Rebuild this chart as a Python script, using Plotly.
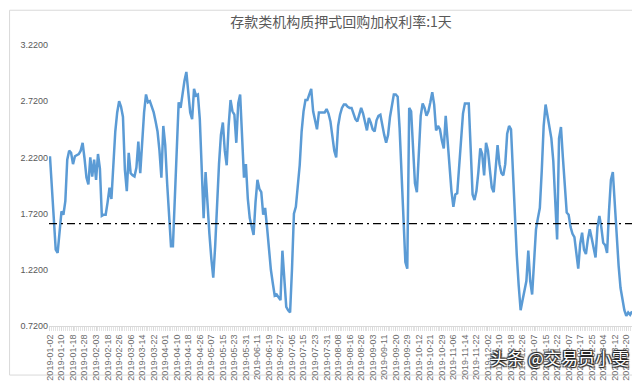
import plotly.graph_objects as go

title_text = "存款类机构质押式回购加权利率:1天"
watermark_text = "头条 @交易员小雯"

tick_labels = [
    "2019-01-02", "2019-01-10", "2019-01-18", "2019-01-28", "2019-02-03", "2019-02-18",
    "2019-02-26", "2019-03-06", "2019-03-14", "2019-03-22", "2019-04-01", "2019-04-10",
    "2019-04-18", "2019-04-26", "2019-05-07", "2019-05-15", "2019-05-23", "2019-05-31",
    "2019-06-11", "2019-06-19", "2019-06-27", "2019-07-05", "2019-07-15", "2019-07-23",
    "2019-07-31", "2019-08-08", "2019-08-16", "2019-08-26", "2019-09-03", "2019-09-11",
    "2019-09-20", "2019-09-29", "2019-10-12", "2019-10-21", "2019-10-29", "2019-11-06",
    "2019-11-14", "2019-11-22", "2019-12-02", "2019-12-10", "2019-12-18", "2019-12-26",
    "2020-01-07", "2020-01-15", "2020-01-22", "2020-02-07", "2020-02-17", "2020-02-25",
    "2020-03-04", "2020-03-12", "2020-03-20",
]
label_step = 6  # trading days between labels

rate = [
    2.23, 1.95, 1.62, 1.40, 1.37, 1.55, 1.74, 1.71, 1.83, 2.20,
    2.28, 2.26, 2.16, 2.23, 2.24, 2.25, 2.28, 2.35, 2.21, 2.04,
    1.98, 2.22, 2.05, 2.20, 2.02, 2.25, 2.12, 1.70, 1.71, 1.71,
    1.82, 1.95, 1.85, 2.20, 2.45, 2.62, 2.72, 2.67, 2.58, 2.11,
    1.92, 2.26, 2.08, 2.06, 2.05, 2.13, 2.36, 2.08, 2.40, 2.62,
    2.78, 2.71, 2.72, 2.67, 2.62, 2.54, 2.45, 2.28, 2.04, 2.50,
    2.33, 1.99, 1.68, 1.43, 1.43, 1.85, 2.40, 2.71, 2.66, 2.80,
    2.90, 2.98, 2.78, 2.62, 2.56, 2.83, 2.77, 2.78, 2.56, 2.16,
    1.68, 2.09, 1.77, 1.54, 1.32, 1.15, 1.43, 1.88, 2.16, 2.42,
    2.53, 2.28, 2.15, 2.50, 2.73, 2.63, 2.60, 2.35, 2.70, 2.78,
    2.36, 2.04, 2.16, 1.85, 1.68, 1.60, 1.53, 1.82, 2.02, 1.94,
    1.91, 1.71, 1.77, 1.60, 1.40, 1.22, 1.10, 0.99, 1.00, 0.97,
    0.95, 1.39, 1.15, 0.89, 0.86, 0.84, 1.23, 1.72, 1.78, 1.94,
    2.15, 2.45, 2.63, 2.73, 2.73, 2.78, 2.83, 2.63, 2.54, 2.47,
    2.62, 2.62, 2.62, 2.62, 2.65, 2.61, 2.54, 2.39, 2.28, 2.22,
    2.50, 2.60, 2.66, 2.69, 2.69, 2.67, 2.66, 2.66, 2.61, 2.56,
    2.54, 2.61, 2.66, 2.61, 2.54, 2.46, 2.57, 2.53, 2.47, 2.45,
    2.55, 2.59, 2.60, 2.50, 2.42, 2.35, 2.42, 2.58, 2.70, 2.78,
    2.78, 2.76, 2.48, 2.10, 1.62, 1.29, 1.23, 2.66, 2.63, 2.30,
    1.99, 1.91, 2.22, 2.59, 2.70, 2.66, 2.59, 2.63, 2.71, 2.80,
    2.69, 2.46, 2.50, 2.47, 2.37, 2.30, 2.59, 2.36, 2.08, 1.92,
    1.78, 1.89, 1.90, 2.16, 2.45, 2.61, 2.70, 2.70, 2.70, 2.30,
    1.89, 1.84, 1.92, 2.09, 2.30, 2.25, 2.06, 2.35, 2.28, 2.11,
    1.95, 1.91, 2.13, 2.33, 2.16, 2.08, 2.06, 2.16, 2.43, 2.50,
    2.47, 2.10, 1.65, 1.35, 1.08, 0.86, 0.95, 1.05, 1.12, 1.39,
    1.12, 1.00, 1.28, 1.58, 1.68, 1.77, 2.10, 2.50, 2.69, 2.60,
    2.50, 2.39, 2.19, 1.88, 1.49, 2.39, 2.49, 2.22, 1.94, 1.73,
    1.71, 1.60, 1.54, 1.51, 1.37, 1.23, 1.45, 1.55, 1.40, 1.36,
    1.49, 1.58, 1.50, 1.40, 1.33, 1.60, 1.70, 1.60, 1.46, 1.44,
    1.37, 1.74, 2.02, 2.09, 1.80, 1.49, 1.26, 1.06, 0.95, 0.86,
    0.81, 0.84, 0.82, 0.85,
]
reference_level = 1.63
y_ticks = [0.72, 1.22, 1.72, 2.22, 2.72, 3.22]

n = len(rate)
x_idx = list(range(n))
tick_pos = [i * label_step for i in range(len(tick_labels))]

W, H = 640, 385
ml, mr, mt, mb = 40, 15, 37, 53
pw, ph = W - ml - mr, H - mt - mb

fig = go.Figure()
fig.add_trace(go.Scatter(
    x=x_idx, y=rate, mode="lines",
    line=dict(color="#5B9BD5", width=2.5),
    hoverinfo="y", showlegend=False,
))

fig.add_shape(type="line", xref="paper", yref="y", x0=0, x1=1,
              y0=reference_level, y1=reference_level,
              line=dict(color="#000000", width=1.3, dash="8px,4px,2px,4px"))

# chart area border (whole figure)
fig.add_shape(type="rect", xref="paper", yref="paper",
              x0=(0.5 - ml) / pw, x1=(W - 1.5 - ml) / pw,
              y0=-(mb - 1.5) / ph, y1=1 + (mt - 0.5) / ph,
              line=dict(color="#D9D9D9", width=1), layer="below")

fig.add_annotation(text=watermark_text, xref="paper", yref="paper",
                   x=(623 - ml) / pw, y=-(365 - (H - mb)) / ph,
                   xanchor="right", yanchor="middle", showarrow=False,
                   font=dict(family="Noto Sans CJK SC", size=17, color="#FFFFFF",
                             shadow="1px 1px 1px #222, -1px -1px 1px #222, 1px -1px 1px #222, -1px 1px 1px #222"))

fig.update_layout(
    width=W, height=H,
    margin=dict(l=ml, r=mr, t=mt, b=mb),
    paper_bgcolor="#FFFFFF", plot_bgcolor="#FFFFFF",
    title=dict(text=title_text, x=0.5, xref="paper", y=1 - 14 / H, yanchor="middle",
               font=dict(family="Noto Sans CJK SC", size=14, color="#595959")),
    xaxis=dict(range=[-0.5, n - 0.5], tickmode="array", tickvals=tick_pos, ticktext=tick_labels,
               tickangle=-90, tickfont=dict(family="Liberation Sans", size=9, color="#6E6E6E"),
               showgrid=False, zeroline=False, showline=True, linecolor="#D9D9D9",
               ticks="outside", ticklen=4, tickcolor="#D9D9D9",
               minor=dict(ticks="outside", dtick=1, tick0=0, ticklen=4, tickcolor="#E3E3E3")),
    yaxis=dict(range=[0.72, 3.22], tickmode="array", tickvals=y_ticks,
               ticktext=[f"{v:.4f}" for v in y_ticks],
               tickfont=dict(family="Liberation Sans", size=9, color="#595959"),
               showgrid=False, zeroline=False, showline=False, ticks=""),
)

fig.write_html("out.html")
